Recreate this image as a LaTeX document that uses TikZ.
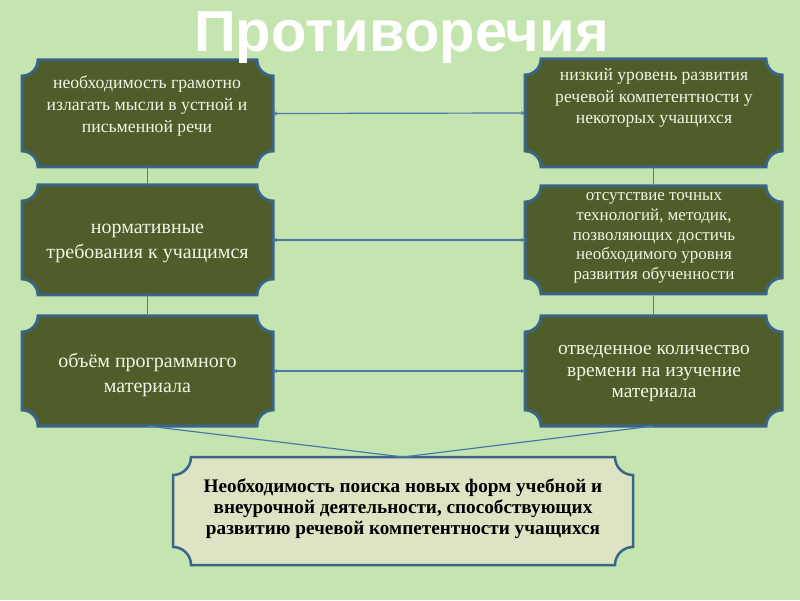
\documentclass[tikz,border=0pt]{standalone}
\usepackage{fontspec}
\setmainfont{Liberation Serif}
\newfontfamily\titlefont{Liberation Sans}
\usetikzlibrary{arrows.meta,backgrounds}
\definecolor{bgc}{HTML}{C4E5B0}
\definecolor{olive}{HTML}{4E5D29}
\definecolor{rim}{HTML}{3B6486}
\definecolor{wire}{HTML}{4B7AAA}
\definecolor{pale}{HTML}{DDE4C4}
\definecolor{ink}{HTML}{F4F4E6}
\newcommand\plaque[3]{% style, node, radius
 \path[#1] ([xshift=#3]#2.north west) -- ([xshift=-#3]#2.north east)
  arc[start angle=180,end angle=270,radius=#3] -- ([yshift=#3]#2.south east)
  arc[start angle=90,end angle=180,radius=#3] -- ([xshift=#3]#2.south west)
  arc[start angle=0,end angle=90,radius=#3] -- ([yshift=-#3]#2.north west)
  arc[start angle=270,end angle=360,radius=#3] -- cycle;}
\tikzset{
 boxshape/.style={inner sep=0pt,outer sep=0pt,minimum width=#1},
 darkplaque/.style={fill=olive,draw=rim,line width=3pt},
 paleplaque/.style={fill=pale,draw=rim,line width=2.5pt},
 wtext/.style={text=ink,align=center,inner sep=0pt},
 link/.style={draw=wire,line width=1.2pt},
 twoway/.style={link,{Stealth[length=4pt,width=4pt]}-{Stealth[length=4pt,width=4pt]}}
}
\begin{document}
\begin{tikzpicture}[x=1pt,y=1pt]
\useasboundingbox (0,0) rectangle (800,600);
% boxes
\node[boxshape=251pt,minimum height=107pt] (L1) at (147.5,486.5) {};
\node[boxshape=251pt,minimum height=110pt] (L2) at (147.5,360) {};
\node[boxshape=251pt,minimum height=110pt] (L3) at (147.5,229) {};
\node[boxshape=257pt,minimum height=108pt] (R1) at (653.5,487) {};
\node[boxshape=257pt,minimum height=108pt] (R2) at (653.5,360) {};
\node[boxshape=257pt,minimum height=110pt] (R3) at (653.5,229) {};
\node[boxshape=460pt,minimum height=108pt] (B) at (403,89) {};
\begin{pgfonlayer}{background}
 \fill[bgc] (0,0) rectangle (800,600);
 \plaque{darkplaque}{L1}{16pt}
 \plaque{darkplaque}{L2}{16pt}
 \plaque{darkplaque}{L3}{16pt}
 \plaque{darkplaque}{R1}{16pt}
 \plaque{darkplaque}{R2}{16pt}
 \plaque{darkplaque}{R3}{16pt}
 \plaque{paleplaque}{B}{18pt}
\end{pgfonlayer}
% title
\node[anchor=base,text=white,inner sep=0pt,font=\titlefont\bfseries\fontsize{58}{60}\selectfont] (title) at (401.5,548) {Противоречия};
% texts
\node[wtext,font=\fontsize{17.7}{22}\selectfont] (t1) at (147,494) {необходимость грамотно\\излагать мысли в устной и\\письменной речи};
\node[wtext,font=\fontsize{20}{25}\selectfont] (t2) at (147.5,356.5) {нормативные\\требования к учащимся};
\node[wtext,font=\fontsize{20}{24.5}\selectfont] (t3) at (147.5,225) {объём программного\\материала};
\node[wtext,font=\fontsize{17.6}{21.5}\selectfont] (t4) at (654,502) {низкий уровень развития\\речевой компетентности у\\некоторых учащихся};
\node[wtext,font=\fontsize{17}{19.7}\selectfont] (t5) at (654,362) {отсутствие точных\\технологий, методик,\\позволяющих достичь\\необходимого уровня\\развития обученности};
\node[wtext,font=\fontsize{19.5}{21.7}\selectfont] (t6) at (654,226.5) {отведенное количество\\времени на изучение\\материала};
\node[align=center,inner sep=0pt,text=black,font=\bfseries\fontsize{19.2}{21}\selectfont] (t7) at (403,91) {Необходимость поиска новых форм учебной и\\внеурочной деятельности, способствующих\\развитию речевой компетентности учащихся};
% connectors
\draw[link] (L1.south) -- (L2.north);
\draw[link] (L2.south) -- (L3.north);
\draw[link] (R1.south) -- (R2.north);
\draw[link] (R2.south) -- (R3.north);
\draw[twoway] (L1.east) -- (R1.west);
\draw[twoway] (L2.east) -- (R2.west);
\draw[twoway] (L3.east) -- (R3.west);
\draw[link] (L3.south) -- (B.north);
\draw[link] (R3.south) -- (B.north);
\end{tikzpicture}
\end{document}
